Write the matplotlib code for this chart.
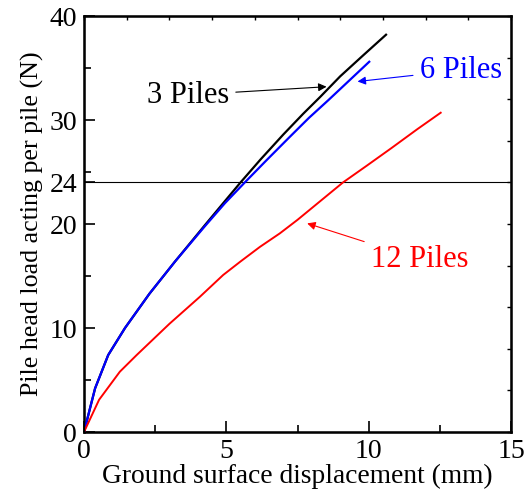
import numpy as np
import matplotlib
matplotlib.use("Agg")
import matplotlib.pyplot as plt

plt.rcParams['font.family'] = ['Liberation Serif', 'DejaVu Serif']
plt.rcParams['mathtext.fontset'] = 'stix'

# Data
x3 = [0, 0.39, 0.85, 1.44, 2.3, 3.2, 4.25, 4.95, 5.5, 6.2, 7.0, 7.7, 8.29, 9.0, 9.8, 10.61]
y3 = [0, 4.2, 7.4, 10.0, 13.3, 16.4, 19.9, 22.2, 24.0, 26.2, 28.6, 30.6, 32.2, 34.2, 36.2, 38.2]

x6 = [0, 0.39, 0.85, 1.44, 2.3, 3.2, 4.25, 4.95, 5.65, 6.4, 7.2, 7.9, 8.58, 9.3, 10.02]
y6 = [0, 4.2, 7.4, 10.0, 13.3, 16.4, 19.8, 22.0, 24.0, 26.1, 28.3, 30.2, 31.9, 33.75, 35.6]

x12 = [0, 0.53, 1.26, 1.85, 3.0, 4.07, 4.89, 5.5, 6.18, 6.88, 7.5, 8.3, 9.1, 9.93, 10.8, 11.7, 12.53]
y12 = [0, 3.1, 5.8, 7.4, 10.4, 13.0, 15.1, 16.4, 17.8, 19.1, 20.4, 22.2, 24.0, 25.6, 27.3, 29.1, 30.7]

ref_load = 24

xticks = [0, 5, 10, 15]
yticks = [0, 10, 20, 24, 30, 40]

fig = plt.figure(figsize=(5.30, 4.92), dpi=100)
ax = fig.add_axes([84/530, 60/492, 427/530, 416/492])

ax.plot(x3, y3, color='black', lw=1.6, zorder=3)
ax.plot(x6, y6, color='blue', lw=1.6, zorder=3)
ax.plot(x12, y12, color='red', lw=1.4, zorder=3)
ax.axhline(ref_load, color='black', lw=0.8, zorder=2)

ax.set_xlim(0, 15)
ax.set_ylim(0, 40)
ax.set_xticks(xticks)
ax.set_xticks([2.5, 7.5, 12.5], minor=True)
ax.set_yticks(yticks)
ax.set_yticks([5, 15, 25, 35], minor=True)
ax.tick_params(which='major', direction='in', length=8, width=1.2, labelsize=20, pad=5)
ax.tick_params(which='minor', direction='in', length=5, width=1.2)
# no visible tick at 24 (line there)
ax.yaxis.get_major_ticks()[3].tick1line.set_visible(False)
for s in ax.spines.values():
    s.set_linewidth(1.8)

ax.set_xlabel('Ground surface displacement (mm)', fontsize=19.8, labelpad=0)
ax.set_ylabel('Pile head load acting per pile (N)', fontsize=18.7, labelpad=4)

axt = ax.twiny()
axt.set_xlim(0, 15)
axt.set_xticks(np.arange(0, 15.01, 1.5))
axt.tick_params(direction='in', length=3, width=1, labeltop=False)
axr = ax.twinx()
axr.set_ylim(0, 40)
axr.set_yticks(np.arange(0, 40.01, 4))
axr.tick_params(direction='in', length=3, width=1, labelright=False)

ax.annotate('3 Piles', xy=(8.52, 33.2), xytext=(2.2, 32.4), fontsize=22, color='black',
            va='center', ha='left',
            arrowprops=dict(arrowstyle='-|>', color='black', lw=0.8, mutation_scale=12,
                            shrinkA=3, shrinkB=0))
ax.annotate('6 Piles', xy=(9.61, 33.7), xytext=(11.8, 34.8), fontsize=22, color='blue',
            va='center', ha='left',
            arrowprops=dict(arrowstyle='-|>', color='blue', lw=0.8, mutation_scale=12,
                            shrinkA=3, shrinkB=0))
ax.annotate('12 Piles', xy=(7.84, 20.06), xytext=(10.08, 16.6), fontsize=22, color='red',
            va='center', ha='left',
            arrowprops=dict(arrowstyle='-|>', color='red', lw=0.8, mutation_scale=12,
                            shrinkA=3, shrinkB=0))

fig.savefig('out.png', dpi=100)
